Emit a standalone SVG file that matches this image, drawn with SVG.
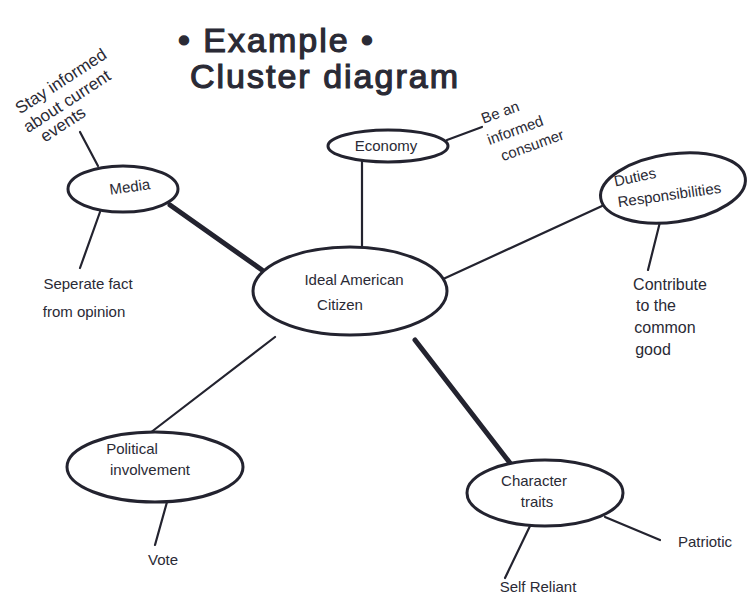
<svg xmlns="http://www.w3.org/2000/svg" width="752" height="598" viewBox="0 0 752 598">
<style>
.bg{fill:#ffffff}
.node{fill:#ffffff;stroke:#23232f;stroke-width:3}
.ln{stroke:#23232f;stroke-width:2.2;fill:none;stroke-linecap:round}
.thick{stroke:#23232f;stroke-width:5;fill:none;stroke-linecap:round}
.t{font-family:"Liberation Sans",Arial,sans-serif;font-size:15px;fill:#2a2a35;text-anchor:middle}
.title{font-family:"Liberation Sans",Arial,sans-serif;font-size:34px;fill:#2a2a35;stroke:#2a2a35;stroke-width:1.2;letter-spacing:2px}
</style>
<rect class="bg" width="752" height="598"/>
<g id="title">
<text class="title" x="178" y="52">• Example •</text>
<text class="title" x="190" y="88">Cluster diagram</text>
</g>
<g id="connectors">
<line class="ln" x1="98" y1="166" x2="80" y2="132"/>
<line class="ln" x1="100" y1="212" x2="80" y2="268"/>
<line class="thick" x1="170" y1="205" x2="262" y2="270"/>
<line class="ln" x1="362" y1="160" x2="362" y2="247"/>
<line class="ln" x1="447" y1="140" x2="482" y2="127"/>
<line class="ln" x1="441" y1="280" x2="602" y2="206"/>
<line class="ln" x1="660" y1="222" x2="648" y2="270"/>
<line class="ln" x1="275" y1="337" x2="150" y2="433"/>
<line class="ln" x1="167" y1="502" x2="155" y2="545"/>
<line class="thick" x1="415" y1="340" x2="510" y2="463"/>
<line class="ln" x1="530" y1="526" x2="505" y2="578"/>
<line class="ln" x1="605" y1="517" x2="660" y2="540"/>
</g>
<g id="stay-informed">
<text class="t" style="font-size:17px" transform="translate(64,86) rotate(-33)">Stay informed</text>
<text class="t" style="font-size:17px" transform="translate(70,106) rotate(-33)">about current</text>
<text class="t" style="font-size:17px" transform="translate(66,129) rotate(-33)">events</text>
</g>
<g id="media">
<ellipse class="node" cx="123" cy="189" rx="55" ry="23"/>
<text class="t" x="130" y="192" transform="rotate(-8 130 188)">Media</text>
</g>
<g id="separate">
<text class="t" x="88" y="289">Seperate fact</text>
<text class="t" x="84" y="317">from opinion</text>
</g>
<g id="economy">
<ellipse class="node" cx="388" cy="146" rx="60" ry="16"/>
<text class="t" x="386" y="151">Economy</text>
</g>
<g id="consumer">
<text class="t" transform="translate(502,117) rotate(-20)">Be an</text>
<text class="t" transform="translate(517,135) rotate(-20)">informed</text>
<text class="t" transform="translate(534,150) rotate(-20)">consumer</text>
</g>
<g id="center">
<ellipse class="node" cx="350" cy="291" rx="97" ry="44"/>
<text class="t" x="354" y="285">Ideal American</text>
<text class="t" x="340" y="310">Citizen</text>
</g>
<g id="duties">
<ellipse class="node" cx="673" cy="188" rx="73" ry="34" transform="rotate(-8 673 188)"/>
<text class="t" transform="translate(636,182) rotate(-12)">Duties</text>
<text class="t" transform="translate(670,200) rotate(-8)">Responsibilities</text>
</g>
<g id="contribute">
<text class="t" style="font-size:16px" x="670" y="290">Contribute</text>
<text class="t" style="font-size:16px" x="656" y="311">to the</text>
<text class="t" style="font-size:16px" x="665" y="333">common</text>
<text class="t" style="font-size:16px" x="653" y="355">good</text>
</g>
<g id="political">
<ellipse class="node" cx="155" cy="467" rx="88" ry="35"/>
<text class="t" x="132" y="454">Political</text>
<text class="t" x="150" y="475">involvement</text>
</g>
<g id="vote">
<text class="t" x="163" y="565">Vote</text>
</g>
<g id="character">
<ellipse class="node" cx="545" cy="493" rx="78" ry="33"/>
<text class="t" x="534" y="486">Character</text>
<text class="t" x="537" y="507">traits</text>
</g>
<g id="patriotic">
<text class="t" x="705" y="547">Patriotic</text>
</g>
<g id="self-reliant">
<text class="t" x="538" y="592">Self Reliant</text>
</g>
</svg>
